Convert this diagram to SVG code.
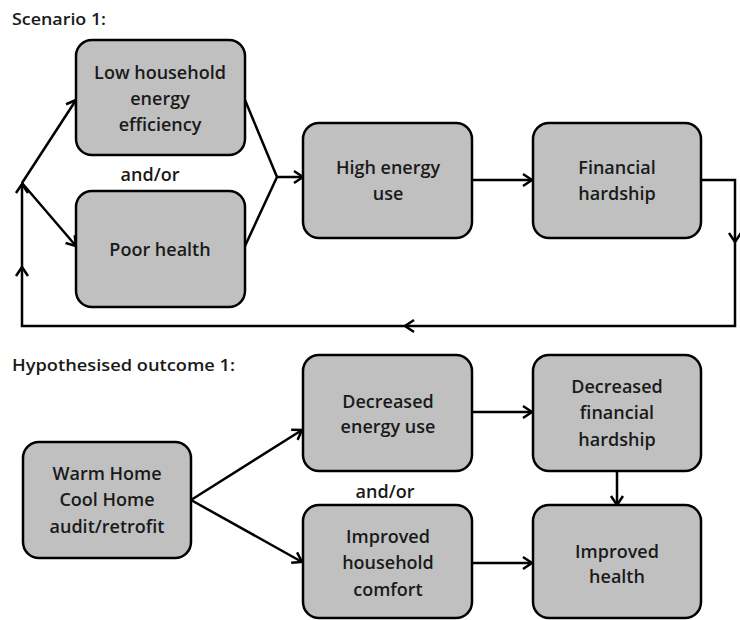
<svg xmlns="http://www.w3.org/2000/svg" width="740" height="620" viewBox="0 0 740 620">
<style>
.box{fill:#c0c0c0;stroke:#000;stroke-width:2.5}
.t{font-family:"Open Sans","Liberation Sans",sans-serif;font-weight:600;font-size:18px;fill:#1a1a1a;text-anchor:middle}
.h{font-family:"Open Sans","Liberation Sans",sans-serif;font-weight:600;font-size:16px;fill:#1a1a1a}
.c{fill:none;stroke:#000;stroke-width:2.5}
</style>
<defs>
<marker id="ah" markerUnits="userSpaceOnUse" markerWidth="20" markerHeight="20" refX="0" refY="0" orient="auto" viewBox="-12 -10 14 20" overflow="visible">
<path d="M-9,-6 L0,0 L-9,6" fill="none" stroke="#000" stroke-width="2.5"/>
</marker>
</defs>
<text class="h" x="12" y="25" textLength="94" lengthAdjust="spacingAndGlyphs">Scenario 1:</text>
<text class="h" x="12" y="371" textLength="223" lengthAdjust="spacingAndGlyphs">Hypothesised outcome 1:</text>
<text class="t" x="150" y="181">and/or</text>
<text class="t" x="385" y="498">and/or</text>
<g id="connectors">
<path class="c" d="M700,180 H735 V242" marker-end="url(#ah)"/>
<path class="c" d="M735,240 V326 H405" marker-end="url(#ah)"/>
<path class="c" d="M407,326 H22 V267" marker-end="url(#ah)"/>
<path class="c" d="M22,269 V184" marker-end="url(#ah)"/>
<path class="c" d="M22,183 L76,100" marker-end="url(#ah)"/>
<path class="c" d="M22,183 L76,246" marker-end="url(#ah)"/>
<path class="c" d="M245,100 L277,177 L245,246"/>
<path class="c" d="M277,177 H303" marker-end="url(#ah)"/>
<path class="c" d="M472,180 H532" marker-end="url(#ah)"/>
<path class="c" d="M191,500 L302,430" marker-end="url(#ah)"/>
<path class="c" d="M191,500 L302,562" marker-end="url(#ah)"/>
<path class="c" d="M472,412 H532" marker-end="url(#ah)"/>
<path class="c" d="M617,471 V505" marker-end="url(#ah)"/>
<path class="c" d="M472,563 H532" marker-end="url(#ah)"/>
</g>
<g id="low-efficiency">
<rect class="box" x="76" y="40" width="169" height="115" rx="16"/>
<text class="t" x="160" y="79">Low household</text>
<text class="t" x="160" y="105">energy</text>
<text class="t" x="160" y="131">efficiency</text>
</g>
<g id="poor-health">
<rect class="box" x="76" y="191" width="169" height="116" rx="16"/>
<text class="t" x="160" y="256">Poor health</text>
</g>
<g id="high-energy">
<rect class="box" x="303" y="123" width="169" height="115" rx="16"/>
<text class="t" x="388" y="174">High energy</text>
<text class="t" x="388" y="200">use</text>
</g>
<g id="financial-hardship">
<rect class="box" x="533" y="123" width="168" height="115" rx="16"/>
<text class="t" x="617" y="174">Financial</text>
<text class="t" x="617" y="200">hardship</text>
</g>
<g id="warm-home">
<rect class="box" x="23" y="442" width="168" height="116" rx="16"/>
<text class="t" x="107" y="480">Warm Home</text>
<text class="t" x="107" y="506">Cool Home</text>
<text class="t" x="107" y="533">audit/retrofit</text>
</g>
<g id="decreased-energy">
<rect class="box" x="303" y="355" width="169" height="116" rx="16"/>
<text class="t" x="388" y="408">Decreased</text>
<text class="t" x="388" y="433">energy use</text>
</g>
<g id="decreased-hardship">
<rect class="box" x="533" y="355" width="168" height="116" rx="16"/>
<text class="t" x="617" y="393">Decreased</text>
<text class="t" x="617" y="419">financial</text>
<text class="t" x="617" y="446">hardship</text>
</g>
<g id="improved-comfort">
<rect class="box" x="303" y="505" width="169" height="113" rx="16"/>
<text class="t" x="388" y="543">Improved</text>
<text class="t" x="388" y="569">household</text>
<text class="t" x="388" y="596">comfort</text>
</g>
<g id="improved-health">
<rect class="box" x="533" y="505" width="168" height="113" rx="16"/>
<text class="t" x="617" y="558">Improved</text>
<text class="t" x="617" y="583">health</text>
</g>
</svg>
